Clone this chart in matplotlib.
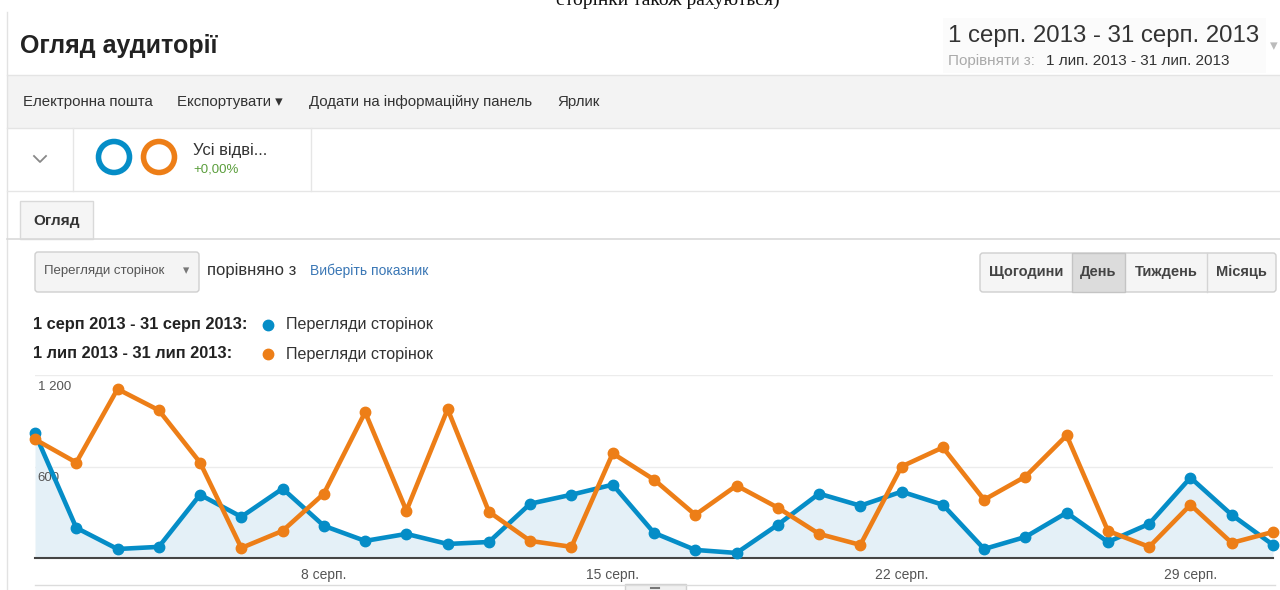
import matplotlib
matplotlib.use("Agg")
import matplotlib.pyplot as plt
from matplotlib.patches import Rectangle, Circle, FancyBboxPatch

plt.rcParams["font.family"] = ["Liberation Sans", "DejaVu Sans"]

# дані: перегляди сторінок по днях
days = list(range(1, 32))
aug_views = [817, 198, 59, 73, 415, 270, 455, 211, 112, 158, 92, 105, 356, 415, 481, 165,
             53, 33, 218, 422, 343, 435, 349, 59, 138, 297, 105, 224, 527, 283, 86]
jul_views = [778, 626, 1108, 969, 626, 66, 178, 422, 956, 310, 976, 303, 112, 73, 686, 514,
             283, 475, 330, 158, 86, 600, 725, 382, 534, 804, 178, 73, 349, 99, 171]
tick_days = [8, 15, 22, 29]
tick_labels = ["8 серп.", "15 серп.", "22 серп.", "29 серп."]
y_ticks = [600, 1200]
y_labels = ["600", "1 200"]

BLUE = "#058dc7"
ORANGE = "#ed7e17"
W, H = 1280, 590

fig = plt.figure(figsize=(12.8, 5.9), dpi=100)
fig.patch.set_facecolor("white")

# фон з елементами інтерфейсу (координати в пікселях)
bg = fig.add_axes([0, 0, 1, 1])
bg.set_xlim(0, W)
bg.set_ylim(H, 0)
bg.axis("off")


def px_rect(x0, y0, x1, y1):
    return [x0 / W, 1 - y1 / H, (x1 - x0) / W, (y1 - y0) / H]


# обрізаний текст зверху
bg.text(668, 5, "сторінки також рахуються)", family=["Liberation Serif", "DejaVu Serif"],
        fontsize=14, ha="center", va="baseline", color="#111")

bg.plot([7, 7], [12, 590], color="#e2e2e2", lw=1)

# заголовок
bg.text(20, 46, "Огляд аудиторії", fontsize=18, fontweight="bold", va="center", color="#222")

# період
bg.add_patch(Rectangle((943, 18), 323, 55, fc="#fbfbfb", ec="none"))
bg.text(948, 36, "1 серп. 2013 - 31 серп. 2013", fontsize=17.3, va="center", color="#333")
bg.text(948, 61, "Порівняти з:", fontsize=11, va="center", color="#aaa")
bg.text(1046, 61, "1 лип. 2013 - 31 лип. 2013", fontsize=11, va="center", color="#333")
bg.text(1274, 46, "▾", fontsize=11, va="center", ha="center", color="#bbb")

# панель інструментів
bg.add_patch(Rectangle((7, 75), W - 7, 53, fc="#f3f3f3", ec="none"))
bg.plot([7, W], [75, 75], color="#e4e4e4", lw=1)
bg.plot([7, W], [128, 128], color="#e4e4e4", lw=1)
for x, s in [(23, "Електронна пошта"), (177, "Експортувати ▾"),
             (309, "Додати на інформаційну панель"), (557, "Ярлик")]:
    bg.text(x, 102, s, fontsize=10.8, va="center", color="#333")

# сегменти
bg.plot([34, 40, 46], [156, 162, 156], color="#888", lw=1.3)
bg.plot([73, 73], [128, 191], color="#e6e6e6", lw=1)
bg.plot([311, 311], [128, 191], color="#e6e6e6", lw=1)
bg.plot([7, W], [191, 191], color="#e6e6e6", lw=1)
bg.add_patch(Circle((114, 157), 15.5, fill=False, ec=BLUE, lw=4))
bg.add_patch(Circle((159, 157), 15.5, fill=False, ec=ORANGE, lw=4))
bg.text(193, 150, "Усі відві...", fontsize=12, va="center", color="#333")
bg.text(193, 169, "+0,00%", fontsize=9.5, va="center", color="#5b9e3c")

# вкладка
bg.plot([7, W], [239, 239], color="#d9d9d9", lw=1.2)
bg.add_patch(Rectangle((20, 201), 73, 38, fc="#f5f5f5", ec="#d9d9d9", lw=1))
bg.text(33, 221, "Огляд", fontsize=11, fontweight="bold", va="center", color="#333")

# вибір показника
bg.add_patch(FancyBboxPatch((35, 252), 164, 40, boxstyle="round,pad=0,rounding_size=3",
                            fc="#f4f4f4", ec="#cfcfcf", lw=1))
bg.text(44, 271, "Перегляди сторінок", fontsize=9.5, va="center", color="#555")
bg.text(186, 271, "▾", fontsize=9, ha="center", va="center", color="#777")
bg.text(207, 270, "порівняно з", fontsize=12, va="center", color="#333")
bg.text(310, 271, "Виберіть показник", fontsize=10, va="center", color="#3a77b5")

# кнопки періоду
bg.add_patch(FancyBboxPatch((980, 253), 296, 39, boxstyle="round,pad=0,rounding_size=3",
                            fc="#f5f5f5", ec="#cfcfcf", lw=1))
bg.add_patch(Rectangle((1072, 253), 53, 39, fc="#dcdcdc", ec="#c4c4c4", lw=1))
for x in [1207]:
    bg.plot([x, x], [253, 292], color="#d4d4d4", lw=1)
for x, s in [(1026, "Щогодини"), (1098.5, "День"), (1166, "Тиждень"), (1241, "Місяць")]:
    bg.text(x, 272, s, fontsize=10.5, fontweight="bold", ha="center", va="center", color="#444")

# легенда
bg.text(33, 325, "1 серп 2013 - 31 серп 2013:", fontsize=11.8, fontweight="bold",
        va="center", color="#222")
bg.text(33, 354, "1 лип 2013 - 31 лип 2013:", fontsize=11.8, fontweight="bold",
        va="center", color="#222")
bg.plot([268], [325], "o", color=BLUE, ms=7.5)
bg.plot([268], [354], "o", color=ORANGE, ms=7.5)
bg.text(286, 325, "Перегляди сторінок", fontsize=11.6, va="center", color="#333")
bg.text(286, 354, "Перегляди сторінок", fontsize=11.6, va="center", color="#333")

# нижня лінія та повзунок
bg.plot([35, 1275], [585, 585], color="#dcdcdc", lw=1)
bg.add_patch(Rectangle((625, 584), 61, 8, fc="#f0f0f0", ec="#d0d0d0", lw=1))
bg.plot([651, 659], [588, 588], color="#777", lw=1.5)

# графік
ax = fig.add_axes(px_rect(35, 375, 1273, 558))
ax.patch.set_alpha(0)
ax.set_xlim(1, 31)
ax.set_ylim(0, 1200)
for s in ["top", "left", "right"]:
    ax.spines[s].set_visible(False)
ax.spines["bottom"].set_color("#444")
ax.spines["bottom"].set_linewidth(1.5)
ax.set_yticks(y_ticks)
ax.tick_params(axis="y", left=False, labelleft=False)
ax.yaxis.grid(True, color="#ececec", lw=1)
ax.set_axisbelow(True)
for v, lbl in zip(y_ticks, y_labels):
    ax.annotate(lbl, xy=(0, v), xycoords=ax.get_yaxis_transform(), xytext=(2, -4),
                textcoords="offset points", va="top", ha="left", fontsize=9.5, color="#555")

ax.set_xticks(tick_days)
ax.set_xticklabels(tick_labels, fontsize=10, color="#555")
ax.tick_params(axis="x", length=0, pad=7)

ax.fill_between(days, aug_views, 0, color="#e4f0f7", lw=0)
ax.plot(days, aug_views, color=BLUE, lw=3.3, marker="o", ms=7.5, clip_on=False, zorder=3)
ax.plot(days, jul_views, color=ORANGE, lw=3.3, marker="o", ms=7.5, clip_on=False, zorder=4)

fig.savefig("out.png", dpi=100)
